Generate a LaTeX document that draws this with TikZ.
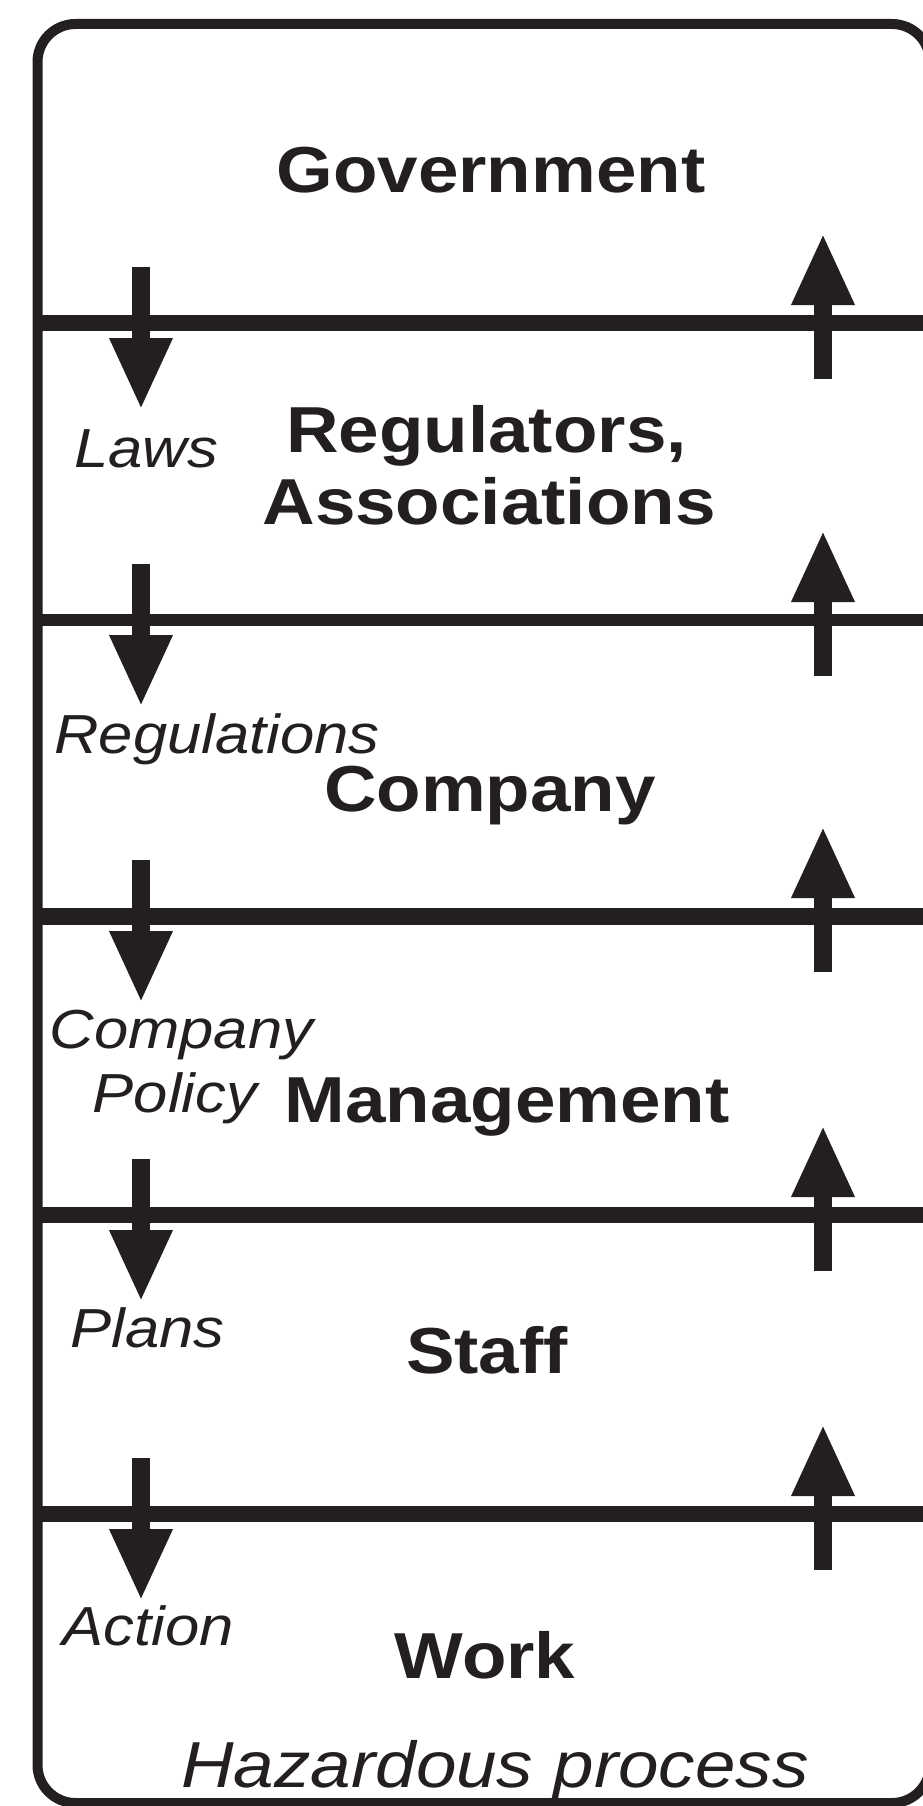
\documentclass[tikz,border=0pt]{standalone}
\usepackage{fontspec}
\setmainfont{Liberation Sans}[FakeStretch=1.12]
\usetikzlibrary{arrows.meta}
\definecolor{ink}{HTML}{231F20}
\tikzset{
  frame/.style={draw=ink, line width=10pt, rounded corners=38pt},
  layerline/.style={draw=ink, line width=#1},
  flowarrow/.style={draw=ink, line width=18pt, -{Triangle[length=72pt,width=58pt]}, fill=ink},
  layertxt/.style={text=ink, inner sep=0pt, anchor=base, font=\bfseries\fontsize{65}{72}\selectfont},
  flowtxt/.style={text=ink, inner sep=0pt, anchor=base, font=\itshape\fontsize{55}{62}\selectfont},
  proctxt/.style={text=ink, inner sep=0pt, anchor=base, font=\itshape\fontsize{65}{72}\selectfont}
}
\begin{document}
\begin{tikzpicture}[x=1pt, y=-1pt]
\useasboundingbox (0,0) rectangle (923,1806);
\clip (0,0) rectangle (923,1806);
\fill[white] (0,0) rectangle (923,1806);
% outer frame
\draw[frame] (37.5,24) rectangle (930,1803);
% layer boundaries with arrows
\foreach \yy/\ww [count=\i] in {323/16pt,620/12pt,916/17pt,1215/16pt,1514/16pt}{
  \coordinate (L\i) at (37.5,\yy);
  \coordinate (R\i) at (930,\yy);
  \draw[layerline=\ww] (L\i) -- (R\i);
  \coordinate (ds\i) at (141,\yy-56);
  \coordinate (de\i) at (141,\yy+87);
  \draw[flowarrow] (ds\i) -- (de\i);
  \coordinate (us\i) at (823,\yy+56);
  \coordinate (ue\i) at (823,\yy-90);
  \draw[flowarrow] (us\i) -- (ue\i);
}
% layer names
\node[layertxt] (gov) at (491,193) {Government};
\node[layertxt] (reg) at (486.5,452) {Regulators,};
\node[layertxt] (assoc) at (489,524) {Associations};
\node[layertxt] (comp) at (490,811) {Company};
\node[layertxt] (mgmt) at (507,1122) {Management};
\node[layertxt] (staff) at (487,1373) {Staff};
\node[layertxt] (work) at (485,1678) {Work};
% flow labels
\node[flowtxt] (laws) at (146,467) {Laws};
\node[flowtxt] (regs) at (217,753) {Regulations};
\node[flowtxt] (cpol1) at (181.5,1048) {Company};
\node[flowtxt] (cpol2) at (175,1112) {Policy};
\node[flowtxt] (plans) at (147.5,1347) {Plans};
\node[flowtxt] (action) at (148.5,1645) {Action};
\node[proctxt] (haz) at (495,1787) {Hazardous process};
\end{tikzpicture}
\end{document}
